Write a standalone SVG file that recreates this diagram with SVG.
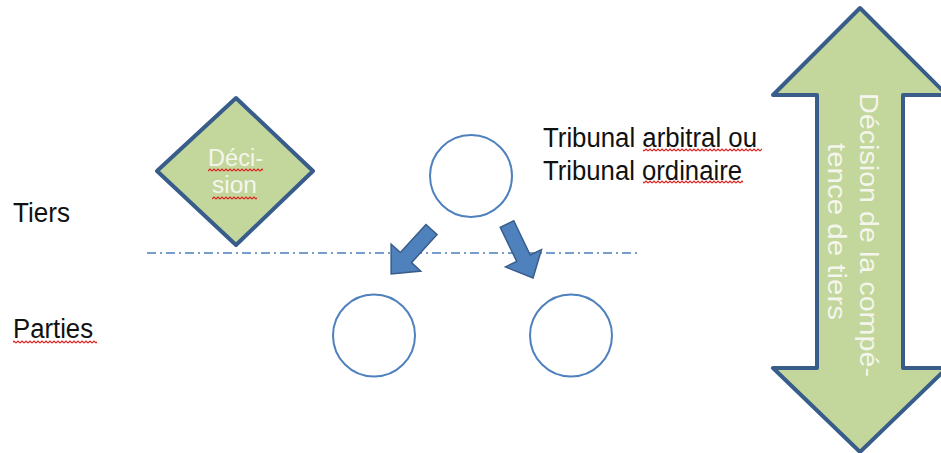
<svg xmlns="http://www.w3.org/2000/svg" width="941" height="453" viewBox="0 0 941 453">
  <defs>
    <pattern id="wavy" width="4" height="4" patternUnits="userSpaceOnUse">
      <path d="M0,3 L2,1 L4,3" stroke="#e0201e" stroke-width="1.2" fill="none"/>
    </pattern>
  </defs>
  <style>
    .lbl { font-family: "Liberation Sans", Arial, sans-serif; font-size: 27px; fill: #111; }
    .wlbl { font-family: "Liberation Sans", Arial, sans-serif; fill: #f4f6ee; }
    .green { fill: #c3d69b; stroke: #385d8a; stroke-width: 4; stroke-linejoin: round; }
    .circ { fill: #ffffff; stroke: #4f81bd; stroke-width: 2; }
    .barrow { fill: #4f81bd; stroke: #385d8a; stroke-width: 1.5; stroke-linejoin: miter; }
    .sep { stroke: #4a7ebb; stroke-width: 1.5; stroke-dasharray: 9 4 2 4; fill: none; }
    .wave { fill: url(#wavy); }
  </style>
  <rect width="941" height="453" fill="#ffffff"/>

  <line id="separator" class="sep" x1="147" y1="253" x2="640" y2="253"/>

  <g id="label-tiers">
    <text class="lbl" x="13" y="222" textLength="57" lengthAdjust="spacingAndGlyphs">Tiers</text>
  </g>
  <g id="label-parties">
    <text class="lbl" x="13" y="338" textLength="80" lengthAdjust="spacingAndGlyphs">Parties</text>
    <rect class="wave" x="13" y="340" width="84" height="4"/>
  </g>
  <g id="label-tribunal">
    <text class="lbl" x="543" y="147" textLength="214" lengthAdjust="spacingAndGlyphs">Tribunal arbitral ou</text>
    <text class="lbl" x="543" y="180" textLength="199" lengthAdjust="spacingAndGlyphs">Tribunal ordinaire</text>
    <rect class="wave" x="643" y="148" width="119" height="4"/>
    <rect class="wave" x="643" y="180" width="100" height="4"/>
  </g>

  <g id="decision">
    <polygon class="green" points="236,98 313,171 236,245 157,171"/>
    <text class="wlbl" font-size="23" x="235.5" y="166" text-anchor="middle" textLength="55" lengthAdjust="spacingAndGlyphs">Déci-</text>
    <text class="wlbl" font-size="23" x="234.5" y="193" text-anchor="middle" textLength="45" lengthAdjust="spacingAndGlyphs">sion</text>
    <rect class="wave" x="208" y="168" width="55" height="4"/>
    <rect class="wave" x="212" y="196" width="45" height="4"/>
  </g>

  <g id="tribunal">
    <circle class="circ" cx="471" cy="176" r="41"/>
  </g>
  <g id="partie-gauche">
    <circle class="circ" cx="374" cy="335.5" r="41"/>
  </g>
  <g id="partie-droite">
    <circle class="circ" cx="571" cy="335.5" r="41"/>
  </g>

  <g id="competence">
    <polygon class="green" points="860,8 947,95 903,95 903,368 947,368 860,452 773,368 817,368 817,95 773,95"/>
    <text class="wlbl" font-size="25" transform="translate(860,235) rotate(90)" text-anchor="middle" textLength="284" lengthAdjust="spacingAndGlyphs">Décision de la compé-</text>
    <text class="wlbl" font-size="25" transform="translate(828,231.5) rotate(90)" text-anchor="middle" textLength="177" lengthAdjust="spacingAndGlyphs">tence de tiers</text>
  </g>

  <g id="connectors">
    <polygon class="barrow" transform="translate(431.5,229.5) rotate(132.3)" points="0,-7.5 38,-7.5 38,-20 60,0 38,20 38,7.5 0,7.5"/>
    <polygon class="barrow" transform="translate(507,224) rotate(64.3)" points="0,-7.5 38,-7.5 38,-20 60,0 38,20 38,7.5 0,7.5"/>
  </g>
</svg>
